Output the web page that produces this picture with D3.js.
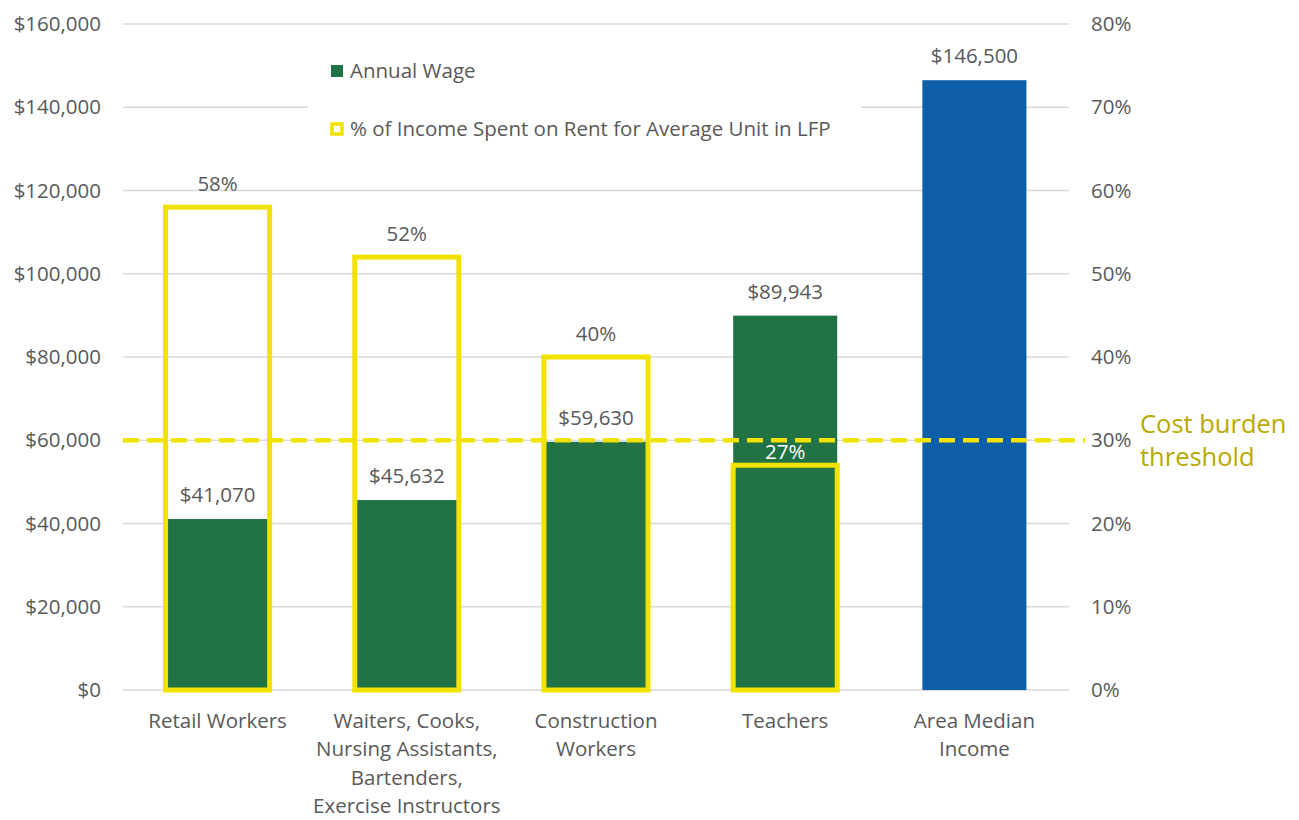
<!DOCTYPE html>
<html>
<head>
<meta charset="utf-8">
<script src="https://cdn.jsdelivr.net/npm/d3@7"></script>
<style>
  html, body { margin: 0; padding: 0; background: #fff; }
  svg { display: block; font-family: "Open Sans", "Noto Sans", sans-serif; }
</style>
</head>
<body>
<svg id="chart" width="1299" height="820"></svg>
<script>
// Occupations compared with the area median income
const categories = [
  ["Retail Workers"],
  ["Waiters, Cooks,", "Nursing Assistants,", "Bartenders,", "Exercise Instructors"],
  ["Construction", "Workers"],
  ["Teachers"],
  ["Area Median", "Income"]
];
const wages = [41070, 45632, 59630, 89943, 146500];
const rentShare = [0.58, 0.52, 0.40, 0.27, null];
const wageTicks = [0, 20000, 40000, 60000, 80000, 100000, 120000, 140000, 160000];
const pctTicks = [0, 0.1, 0.2, 0.3, 0.4, 0.5, 0.6, 0.7, 0.8];
const threshold = 0.30;

const GREEN = "#217346", BLUE = "#0F5FA8", YELLOW = "#F2E200", TEXT = "#595959", GRID = "#D9D9D9";
const FS = "20.5px";

const svg = d3.select("#chart");
const m = { left: 123, right: 1069, top: 24, bottom: 690 };

const x = d3.scaleBand().domain(d3.range(categories.length)).range([m.left, m.right]).paddingInner(0).paddingOuter(0);
const yW = d3.scaleLinear().domain([0, 160000]).range([m.bottom, m.top]);
const yP = d3.scaleLinear().domain([0, 0.8]).range([m.bottom, m.top]);
const barW = x.bandwidth() * 0.55;
const fmtMoney = v => "$" + d3.format(",")(v);
const fmtPct = d3.format(".0%");

// Gridlines
svg.append("g").selectAll("line").data(wageTicks).join("line")
  .attr("x1", m.left).attr("x2", m.right)
  .attr("y1", d => yW(d)).attr("y2", d => yW(d))
  .attr("stroke", GRID).attr("stroke-width", 1.3);

// Left axis labels
const leftAxis = svg.append("g").attr("transform", `translate(${m.left - 22},0)`)
  .call(d3.axisLeft(yW).tickValues(wageTicks).tickFormat(fmtMoney).tickSize(0).tickPadding(0));
leftAxis.attr("font-family", null).attr("font-size", null);
leftAxis.select(".domain").remove();
leftAxis.selectAll("text").attr("fill", TEXT).style("font-size", FS);

// Right axis labels
const rightAxis = svg.append("g").attr("transform", `translate(${m.right + 22},0)`)
  .call(d3.axisRight(yP).tickValues(pctTicks).tickFormat(fmtPct).tickSize(0).tickPadding(0));
rightAxis.attr("font-family", null).attr("font-size", null);
rightAxis.select(".domain").remove();
rightAxis.selectAll("text").attr("fill", TEXT).style("font-size", FS);

// Wage bars
svg.append("g").selectAll("rect").data(wages).join("rect")
  .attr("x", (d, i) => x(i) + (x.bandwidth() - barW) / 2)
  .attr("width", barW)
  .attr("y", d => yW(d))
  .attr("height", d => yW(0) - yW(d))
  .attr("fill", (d, i) => i === wages.length - 1 ? BLUE : GREEN);

// Rent share outlines
const rentData = rentShare.map((v, i) => ({ v, i })).filter(d => d.v != null);
svg.append("g").selectAll("rect").data(rentData).join("rect")
  .attr("x", d => x(d.i) + (x.bandwidth() - barW) / 2)
  .attr("width", barW)
  .attr("y", d => yP(d.v))
  .attr("height", d => yP(0) - yP(d.v))
  .attr("fill", "none")
  .attr("stroke", YELLOW).attr("stroke-width", 5);

// Cost burden threshold line
svg.append("line")
  .attr("x1", m.left).attr("x2", m.right + 16)
  .attr("y1", yP(threshold)).attr("y2", yP(threshold))
  .attr("stroke", YELLOW).attr("stroke-width", 4.5)
  .attr("stroke-dasharray", "16,8");

svg.append("text").attr("x", 1140).attr("y", yP(threshold) - 7)
  .attr("fill", "#B8AA00").style("font-size", "25.5px").text("Cost burden");
svg.append("text").attr("x", 1140).attr("y", yP(threshold) + 26)
  .attr("fill", "#B8AA00").style("font-size", "25.5px").text("threshold");

// Wage labels
svg.append("g").selectAll("text").data(wages).join("text")
  .attr("x", (d, i) => x(i) + x.bandwidth() / 2)
  .attr("y", d => yW(d) - 17)
  .attr("text-anchor", "middle")
  .attr("fill", TEXT).style("font-size", FS)
  .text(fmtMoney);

// Rent share labels (white when sitting on a wage bar)
const onBar = d => wages[d.i] > yW.invert(yP(d.v) - 30);
svg.append("g").selectAll("text").data(rentData).join("text")
  .attr("x", d => x(d.i) + x.bandwidth() / 2)
  .attr("y", d => yP(d.v) - (onBar(d) ? 6 : 16))
  .attr("text-anchor", "middle")
  .attr("fill", d => onBar(d) ? "#FFFFFF" : TEXT)
  .style("font-size", FS)
  .text(d => fmtPct(d.v));

// Category labels
const cat = svg.append("g").selectAll("text").data(categories).join("text")
  .attr("x", (d, i) => x(i) + x.bandwidth() / 2)
  .attr("y", 728)
  .attr("text-anchor", "middle")
  .attr("fill", TEXT).style("font-size", FS);
cat.selectAll("tspan").data(d => d).join("tspan")
  .attr("x", function () { return d3.select(this.parentNode).attr("x"); })
  .attr("dy", (d, j) => j === 0 ? 0 : 28.3)
  .text(d => d);

// Legend
const legend = svg.append("g");
legend.append("rect").attr("x", 308).attr("y", 46).attr("width", 553).attr("height", 108).attr("fill", "#fff");
legend.append("rect").attr("x", 331).attr("y", 65).attr("width", 12).attr("height", 12).attr("fill", GREEN);
legend.append("text").attr("x", 350).attr("y", 71).attr("dy", "0.35em")
  .attr("fill", TEXT).style("font-size", FS).text("Annual Wage");
legend.append("rect").attr("x", 332).attr("y", 124).attr("width", 10).attr("height", 10)
  .attr("fill", "#fff").attr("stroke", YELLOW).attr("stroke-width", 3.5);
legend.append("text").attr("x", 350).attr("y", 129).attr("dy", "0.35em")
  .attr("fill", TEXT).style("font-size", FS).text("% of Income Spent on Rent for Average Unit in LFP");
</script>
</body>
</html>
